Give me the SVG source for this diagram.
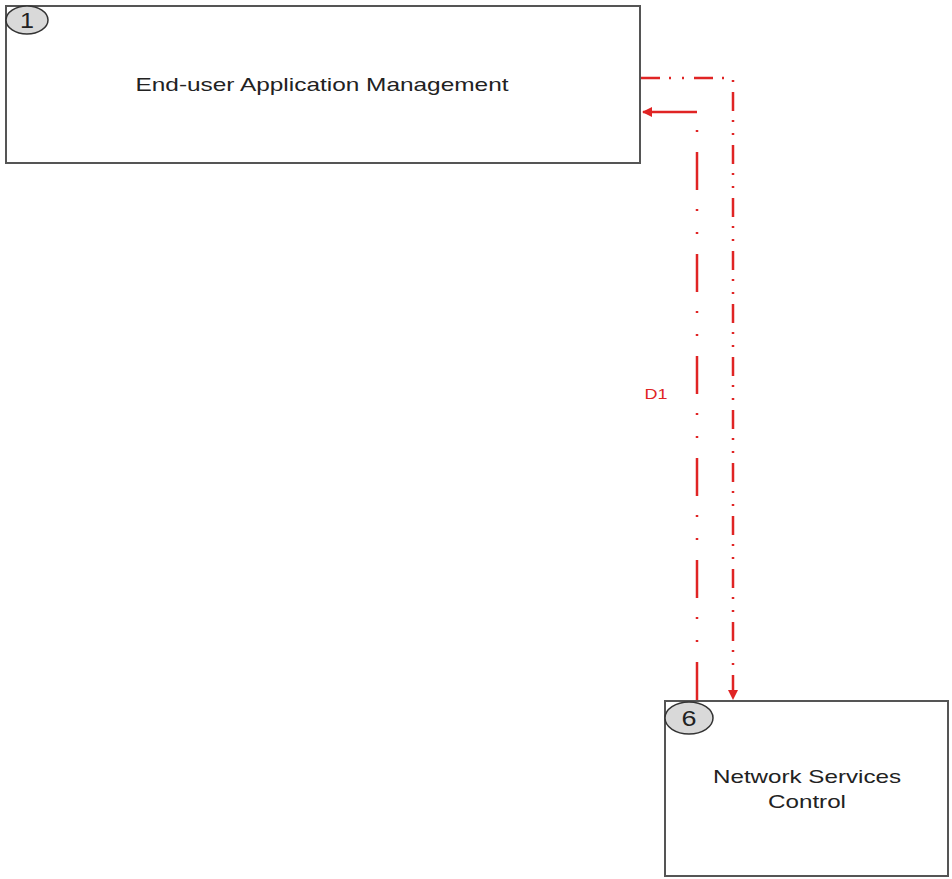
<svg xmlns="http://www.w3.org/2000/svg" width="952" height="879" viewBox="0 0 952 879">
<style>
.box{fill:#fff;stroke:#555;stroke-width:2}
.badge{fill:#d9d9d9;stroke:#333;stroke-width:1.5}
.lbl{font-family:"Liberation Sans",Arial,sans-serif;font-size:19px;fill:#222;text-anchor:middle}
.num{font-family:"Liberation Sans",Arial,sans-serif;font-size:22px;fill:#222;text-anchor:middle}
.conn{fill:none;stroke:#e02424;stroke-width:2.5}
</style>
<defs>
<marker id="ah" markerWidth="10" markerHeight="10" refX="9" refY="5" orient="auto" markerUnits="userSpaceOnUse">
<path d="M0,0 L10,5 L0,10 Z" fill="#e02424"/>
</marker>
</defs>
<rect width="952" height="879" fill="#fff"/>
<g id="node1">
<rect class="box" x="6" y="6" width="634" height="157"/>
<ellipse class="badge" cx="27" cy="20" rx="21" ry="14"/>
<text class="num" x="27" y="28" textLength="14" lengthAdjust="spacingAndGlyphs">1</text>
<text class="lbl" x="322" y="91" textLength="373" lengthAdjust="spacingAndGlyphs">End-user Application Management</text>
</g>
<g id="node6">
<rect class="box" x="665" y="701" width="283" height="175"/>
<ellipse class="badge" cx="689" cy="718" rx="24" ry="16"/>
<text class="num" x="689" y="726" textLength="15" lengthAdjust="spacingAndGlyphs">6</text>
<text class="lbl" x="807" y="783" textLength="188" lengthAdjust="spacingAndGlyphs">Network Services</text>
<text class="lbl" x="807" y="808" textLength="78" lengthAdjust="spacingAndGlyphs">Control</text>
</g>
<g id="connectors">
<path class="conn" d="M697,700 L697,112" stroke-dasharray="38 20 2 21 2 19"/>
<path class="conn" d="M697,112 L643,112" marker-end="url(#ah)"/>
<path class="conn" d="M641,78 L733,78 L733,699" stroke-dasharray="19 9 2 11 2 10" marker-end="url(#ah)"/>
<text x="656" y="399" font-family="Liberation Sans,Arial,sans-serif" font-size="15" fill="#e02424" text-anchor="middle" textLength="23" lengthAdjust="spacingAndGlyphs">D1</text>
</g>
</svg>
